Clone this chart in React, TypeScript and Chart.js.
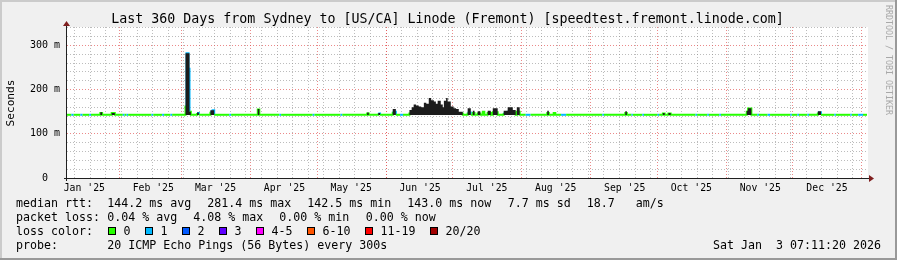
import React, { useEffect, useRef } from 'react';
import { Chart, registerables } from 'chart.js';

Chart.register(...registerables);

const MONO = "'DejaVu Sans Mono', 'Liberation Mono', monospace";

// Sample start day (2025 day-of-year, Jan 1 = 0)
const sampleDay = [
  7.5, 9.5, 10.5, 13.5, 14.5, 17.5, 18.3, 22.5, 23.3, 27.6, 29.0, 32.6, 33.4, 34.3, 35.0,
  45.5, 46.3, 50.3, 51.2, 54.0, 54.8, 60.8, 61.25, 62.15, 62.6, 63.2, 66.0, 66.8, 72.0, 73.0, 73.7,
  80.5, 81.3, 93.3, 94.0, 103.0, 103.8, 118.0, 118.8, 130.5, 131.3, 142.5, 143.2, 147.5, 148.3,
  154.0, 155.4, 157.3, 158.6,
  161.5, 162.5, 163.4, 164.5, 165.7, 166.8, 168.0, 169.1, 170.2, 171.3, 172.5, 173.4, 174.2,
  175.6, 176.5, 177.0, 178.0, 178.7, 180.1, 181.4, 182.5, 183.7, 185.5, 187.7, 189.1, 190.0,
  190.8, 192.2, 193.4, 194.5, 195.2, 196.7, 198.1, 199.0, 201.2, 203.9, 205.7, 208.0, 209.3,
  209.8, 211.1, 213.8, 216.0, 223.5, 224.2, 226.4, 227.1, 229.7, 232.0, 248.3, 249.0,
  258.6, 259.3, 261.4, 262.0, 266.3, 267.0, 273.1, 273.8, 275.5, 276.3, 278.0, 279.0,
  290.2, 290.9, 295.5, 296.2, 300.9, 301.6, 313.2, 313.8, 315.3, 318.0, 318.7, 322.6, 323.7,
  332.8, 333.5, 336.0, 336.7, 340.5, 341.2, 345.2, 346.6, 352.6, 353.3, 359.8, 360.5,
  363.3, 365.5, 367.3,
];

// median round trip time (ms)
const medianMs = [
  143, 143, 143, 143, 143, 143, 143, 147, 143, 147, 143, 143, 143, 143, 143,
  143, 143, 143, 143, 143, 143, 164, 282, 247, 150, 143, 147, 143, 150, 153, 143,
  143, 143, 155, 143, 143, 143, 143, 143, 143, 143, 146, 143, 146, 143,
  150, 143, 143, 143,
  146, 148, 150, 148, 149, 148, 152, 150, 155, 152, 150, 150, 152,
  150, 148, 152, 155, 151, 149, 148, 147, 146, 143, 148, 143, 147,
  143, 146, 143, 150, 143, 147, 143, 149, 143, 147, 150, 148, 143,
  150, 143, 143, 143, 147, 143, 147, 143, 143, 143, 143, 143,
  147, 143, 143, 143, 143, 143, 143, 143, 146, 143, 146, 143,
  143, 143, 143, 143, 143, 143, 150, 157, 143, 143, 143, 143, 143,
  143, 143, 143, 143, 143, 143, 148, 143, 143, 143, 143, 143,
  143, 143, 143,
];

// top of the smoke (ms); 142.5 = no smoke above the minimum
const smokeTopMs = [
  142.5, 142.5, 142.5, 142.5, 142.5, 142.5, 142.5, 149, 142.5, 147, 142.5, 142.5, 142.5, 142.5, 142.5,
  142.5, 142.5, 142.5, 142.5, 142.5, 142.5, 282, 282, 282, 150, 142.5, 148, 142.5, 153, 153, 142.5,
  142.5, 142.5, 156, 142.5, 142.5, 142.5, 142.5, 142.5, 142.5, 142.5, 148, 142.5, 147, 142.5,
  156, 142.5, 142.5, 142.5,
  154, 160, 166, 164, 162, 160, 170, 168, 181, 176, 173, 168, 175,
  166, 160, 175, 181, 173, 162, 158, 156, 150, 142.5, 158, 142.5, 152,
  142.5, 151, 142.5, 142.5, 142.5, 152, 142.5, 158, 142.5, 152, 160, 154, 142.5,
  160, 142.5, 142.5, 142.5, 152, 142.5, 142.5, 142.5, 142.5, 142.5, 142.5, 142.5,
  151, 142.5, 142.5, 142.5, 142.5, 142.5, 142.5, 142.5, 147, 142.5, 147, 142.5,
  142.5, 142.5, 142.5, 142.5, 142.5, 142.5, 152, 158, 142.5, 142.5, 142.5, 142.5, 142.5,
  142.5, 142.5, 142.5, 142.5, 142.5, 142.5, 151, 142.5, 142.5, 142.5, 142.5, 142.5,
  142.5, 142.5, 142.5,
];

// lost pings out of 20
const lostPings = [
  0, 1, 0, 1, 0, 1, 0, 0, 0, 0, 0, 1, 0, 1, 0,
  1, 0, 1, 0, 1, 0, 1, 1, 1, 0, 0, 1, 0, 1, 1, 0,
  1, 0, 0, 0, 1, 0, 1, 0, 1, 0, 0, 0, 1, 0,
  1, 0, 1, 0,
  0, 0, 1, 0, 1, 0, 1, 0, 1, 0, 0, 1, 0,
  0, 1, 1, 0, 0, 1, 0, 0, 0, 0, 1, 0, 0,
  0, 0, 0, 0, 0, 0, 0, 0, 0, 1, 1, 0, 0,
  0, 0, 1, 0, 0, 0, 0, 0, 1, 0, 1, 0,
  0, 0, 1, 0, 1, 0, 1, 0, 0, 0, 0, 0,
  1, 0, 1, 0, 1, 0, 0, 0, 0, 1, 0, 1, 0,
  1, 0, 1, 0, 1, 0, 1, 0, 1, 0, 1, 0,
  1, 0, 0,
];

const rangeStartDay = 7.5;
const rangeEndDay = 367.3;
const smokeFloorMs = 142.5;
const yMaxMs = 341.6;

const monthStartDay = [0, 31, 59, 90, 120, 151, 181, 212, 243, 273, 304, 334, 365];
const monthLabels = ["Jan '25", "Feb '25", "Mar '25", "Apr '25", "May '25", "Jun '25", "Jul '25", "Aug '25", "Sep '25", "Oct '25", "Nov '25", "Dec '25", "Jan '26"];
const firstSundayDay = 4;

const yTickValues = [0, 20, 40, 60, 80, 100, 120, 140, 160, 180, 200, 220, 240, 260, 280, 300, 320, 340];

const lossLabels = ['0', '1', '2', '3', '4-5', '6-10', '11-19', '20/20'];
const lossUpper = [0, 1, 2, 3, 5, 10, 19, 20];
const lossColors = ['#26ff00', '#00b8ff', '#0059ff', '#5e00ff', '#ff00ff', '#ff5500', '#ff0000', '#a10000'];

const titleText = 'Last 360 Days from Sydney to [US/CA] Linode (Fremont) [speedtest.fremont.linode.com]';
const rttItems = ['median rtt:', '144.2 ms avg', '281.4 ms max', '142.5 ms min', '143.0 ms now', '7.7 ms sd', '18.7   am/s'];
const lossItems = ['packet loss:', '0.04 % avg', '4.08 % max', '0.00 % min', '0.00 % now'];
const probeItems = ['probe:', '20 ICMP Echo Pings (56 Bytes) every 300s'];
const stampText = 'Sat Jan  3 07:11:20 2026';
const watermarkText = 'RRDTOOL / TOBI OETIKER';

function lossColor(n: number) {
  for (let i = 0; i < lossUpper.length; i++) if (n <= lossUpper[i]) return lossColors[i];
  return lossColors[lossColors.length - 1];
}

export default function App() {
  const canvasRef = useRef<HTMLCanvasElement>(null);

  useEffect(() => {
    const canvas = canvasRef.current;
    if (!canvas) return;

    const monthSet = new Set(monthStartDay.map((d) => d.toFixed(2)));
    const labelMap = new Map<string, string>();
    monthStartDay.forEach((d, i) => {
      const pos = d + 15.3;
      if (pos >= rangeStartDay && pos <= rangeEndDay) labelMap.set(pos.toFixed(2), monthLabels[i]);
    });

    const decor = {
      id: 'rrdDecor',
      beforeDraw(chart: any) {
        const { ctx, chartArea } = chart;
        const W = chart.width, H = chart.height;
        ctx.save();
        ctx.fillStyle = '#f0f0f0';
        ctx.fillRect(0, 0, W, H);
        ctx.fillStyle = '#cbcbcb';
        ctx.fillRect(0, 0, W, 2);
        ctx.fillRect(0, 0, 2, H);
        ctx.fillStyle = '#999999';
        ctx.fillRect(0, H - 2, W, 2);
        ctx.fillRect(W - 2, 0, 2, H);
        ctx.fillStyle = '#ffffff';
        ctx.fillRect(chartArea.left, chartArea.top, chartArea.right - chartArea.left + 1, chartArea.bottom - chartArea.top);
        ctx.restore();
      },
      afterDraw(chart: any) {
        const { ctx, chartArea } = chart;
        const L = chartArea.left, B = chartArea.bottom, T = chartArea.top, R = chartArea.right;
        ctx.save();
        ctx.strokeStyle = '#202020';
        ctx.lineWidth = 1;
        ctx.beginPath();
        ctx.moveTo(Math.round(L) - 0.5, B + 3);
        ctx.lineTo(Math.round(L) - 0.5, T - 2);
        ctx.moveTo(L - 3, Math.round(B) + 0.5);
        ctx.lineTo(R + 3, Math.round(B) + 0.5);
        ctx.stroke();
        ctx.fillStyle = '#7f1f1f';
        ctx.beginPath();
        const ax = Math.round(L) - 0.5;
        ctx.moveTo(ax - 3.5, T - 1);
        ctx.lineTo(ax + 3.5, T - 1);
        ctx.lineTo(ax, T - 6);
        ctx.closePath();
        ctx.fill();
        const ay = Math.round(B) + 0.5;
        ctx.beginPath();
        ctx.moveTo(R + 2, ay - 3.5);
        ctx.lineTo(R + 2, ay + 3.5);
        ctx.lineTo(R + 7, ay);
        ctx.closePath();
        ctx.fill();

        ctx.fillStyle = '#000000';
        ctx.textBaseline = 'middle';
        ctx.font = `13.3px ${MONO}`;
        ctx.textAlign = 'center';
        ctx.fillText(titleText, 447.5, 19.5);
        ctx.save();
        ctx.translate(11.5, 103);
        ctx.rotate(-Math.PI / 2);
        ctx.font = `11.1px ${MONO}`;
        ctx.fillText('Seconds', 0, 0);
        ctx.restore();

        ctx.font = `11.63px ${MONO}`;
        ctx.textAlign = 'left';
        const rttX = [16, 107.3, 207.3, 307.3, 407.3, 507.7, 586.7];
        rttItems.forEach((t, i) => ctx.fillText(t, rttX[i], 204));
        const lossX = [16, 107.3, 193.3, 279.3, 365.7];
        lossItems.forEach((t, i) => ctx.fillText(t, lossX[i], 218));
        ctx.fillText('loss color:', 16, 232);
        const swX = [108, 145, 182, 219, 256, 307, 365, 430];
        lossLabels.forEach((t, i) => {
          ctx.fillStyle = lossColors[i];
          ctx.fillRect(swX[i], 227, 8, 8);
          ctx.strokeStyle = '#000000';
          ctx.lineWidth = 1;
          ctx.strokeRect(swX[i] + 0.5, 227.5, 7, 7);
          ctx.fillStyle = '#000000';
          ctx.fillText(t, swX[i] + 15.5, 232);
        });
        ctx.fillText(probeItems[0], 16, 246);
        ctx.fillText(probeItems[1], 107.3, 246);
        ctx.textAlign = 'right';
        ctx.fillText(stampText, 881, 246);

        ctx.save();
        ctx.translate(888.5, 5);
        ctx.rotate(Math.PI / 2);
        ctx.textAlign = 'left';
        ctx.fillStyle = '#a8a8a8';
        ctx.font = `8.3px ${MONO}`;
        ctx.fillText(watermarkText, 0, 0);
        ctx.restore();
        ctx.restore();
      },
    };

    const medianData = sampleDay.map((d, i) => ({ x: d, y: medianMs[i] }));
    const smokeData = sampleDay.map((d, i) => ({ x: d, y: smokeTopMs[i] }));

    const chart = new Chart(canvas, {
      type: 'line',
      data: {
        datasets: [
          {
            label: 'smoke',
            data: smokeData,
            stepped: 'before',
            borderWidth: 0,
            borderColor: 'rgba(0,0,0,0)',
            backgroundColor: '#1c1c1c',
            fill: { value: smokeFloorMs },
            pointRadius: 0,
            order: 1,
          },
          {
            label: 'median',
            data: medianData,
            stepped: 'before',
            borderWidth: 2,
            borderColor: lossColors[0],
            fill: false,
            pointRadius: 0,
            order: 2,
            segment: {
              borderColor: (c: any) => lossColor(lostPings[c.p0DataIndex]),
            },
          },
        ],
      },
      options: {
        responsive: false,
        animation: false,
        devicePixelRatio: 1,
        events: [],
        layout: { padding: { left: 0, top: 27, right: 30, bottom: 62 } },
        plugins: { legend: { display: false }, tooltip: { enabled: false }, title: { display: false } },
        scales: {
          x: {
            type: 'linear',
            min: rangeStartDay,
            max: rangeEndDay,
            afterFit: (s: any) => { s.height = 20; },
            afterBuildTicks: (s: any) => {
              const vals: number[] = [];
              for (let d = firstSundayDay; d <= rangeEndDay; d += 7) if (d >= rangeStartDay) vals.push(d);
              monthStartDay.forEach((d) => { if (d >= rangeStartDay && d <= rangeEndDay) vals.push(d); });
              labelMap.forEach((_, k) => vals.push(parseFloat(k)));
              vals.sort((a, b) => a - b);
              s.ticks = vals.map((v) => ({ value: v }));
            },
            grid: {
              drawTicks: false,
              lineWidth: 1,
              color: (c: any) => {
                const v = c.tick ? c.tick.value : 0;
                const k = v.toFixed(2);
                if (labelMap.has(k)) return 'rgba(0,0,0,0)';
                if (monthSet.has(k)) return 'rgba(225,74,74,0.65)';
                return 'rgba(143,143,143,0.6)';
              },
            },
            border: { display: false, dash: [1, 2] },
            ticks: {
              autoSkip: false,
              maxRotation: 0,
              minRotation: 0,
              padding: 4.5,
              color: '#000000',
              font: { family: MONO, size: 9.8 },
              callback: (v: any) => labelMap.get(Number(v).toFixed(2)) || '',
            },
          },
          y: {
            type: 'linear',
            min: 0,
            max: yMaxMs,
            afterFit: (s: any) => { s.width = 67; },
            afterBuildTicks: (s: any) => { s.ticks = yTickValues.map((v) => ({ value: v })); },
            grid: {
              drawTicks: false,
              lineWidth: 1,
              color: (c: any) => {
                const v = c.tick ? c.tick.value : 0;
                return v % 100 === 0 ? 'rgba(225,74,74,0.65)' : 'rgba(143,143,143,0.6)';
              },
            },
            border: { display: false, dash: [1, 2] },
            ticks: {
              autoSkip: false,
              padding: 7,
              color: '#000000',
              font: { family: MONO, size: 10 },
              callback: (v: any) => {
                const n = Number(v);
                if (n % 100 !== 0) return '';
                return n === 0 ? '0  ' : `${n} m`;
              },
            },
          },
        },
      },
      plugins: [decor],
    });

    return () => chart.destroy();
  }, []);

  return (
    <div style={{ position: 'fixed', left: 0, top: 0, width: 897, height: 260 }}>
      <canvas ref={canvasRef} width={897} height={260} style={{ display: 'block', width: 897, height: 260 }} />
    </div>
  );
}
